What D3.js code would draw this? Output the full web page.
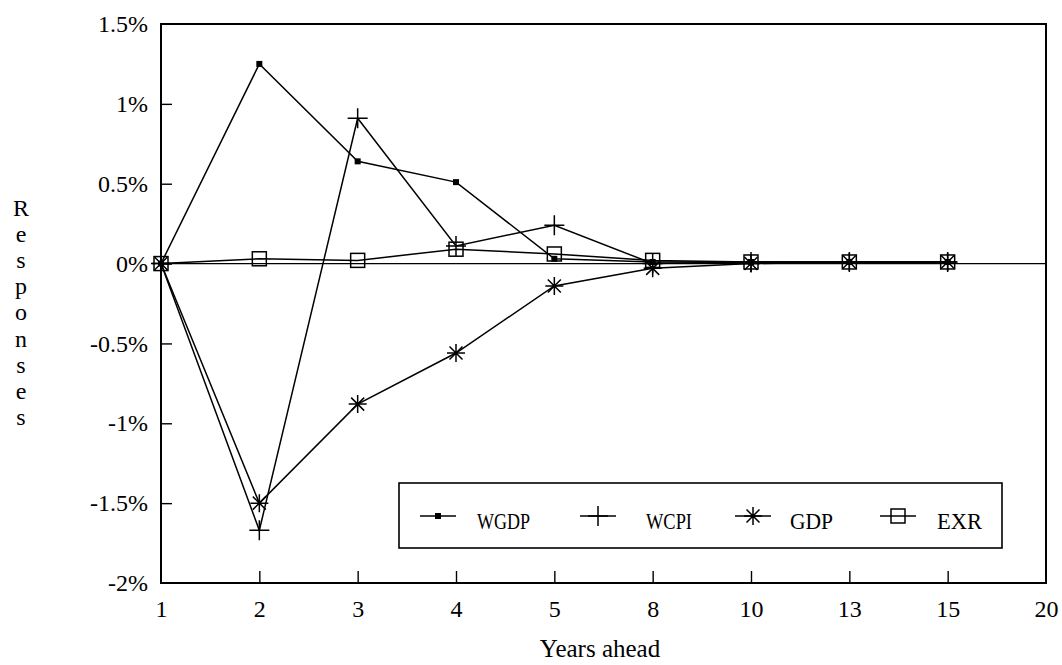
<!DOCTYPE html>
<html>
<head>
<meta charset="utf-8">
<script src="https://cdn.jsdelivr.net/npm/d3@7/dist/d3.min.js"></script>
<style>
  html, body { margin: 0; padding: 0; background: #fff; }
  svg { display: block; }
  svg text { font-family: "Liberation Serif", "Times New Roman", serif !important; fill: #000; }
</style>
</head>
<body>
<svg id="chart" width="1062" height="665"></svg>
<script>
// Horizon categories (years ahead), equally spaced on the axis
const years = ["1", "2", "3", "4", "5", "8", "10", "13", "15", "20"];

// Impulse responses in percent, one value per horizon 1..15
const wgdp = [0, 1.25, 0.64, 0.51, 0.03, 0.01, 0.01, 0.01, 0.01];
const wcpi = [0, -1.67, 0.91, 0.11, 0.24, 0.00, 0.01, 0.01, 0.01];
const gdp  = [0, -1.50, -0.88, -0.56, -0.14, -0.03, 0.00, 0.01, 0.01];
const exr  = [0, 0.03, 0.02, 0.09, 0.06, 0.02, 0.01, 0.01, 0.01];

const seriesNames = ["WGDP", "WCPI", "GDP", "EXR"];
const yTicks = [-2, -1.5, -1, -0.5, 0, 0.5, 1, 1.5];

const serif = '"Liberation Serif", "Times New Roman", serif';
const svg = d3.select("#chart");
const plotLeft = 161, plotRight = 1046, plotTop = 24, plotBottom = 583;

const x = d3.scalePoint().domain(years).range([plotLeft, plotRight]).padding(0);
const y = d3.scaleLinear().domain([-2, 1.5]).range([plotBottom, plotTop]);

const fmt = v => (v === 0 ? "0" : String(v)) + "%";

// Y axis: inward ticks, labels on the left
const yAxis = svg.append("g")
  .attr("transform", `translate(${plotLeft},0)`)
  .call(d3.axisLeft(y).tickValues(yTicks).tickFormat(fmt)
    .tickSizeInner(-11).tickSizeOuter(0).tickPadding(13))
  .attr("font-family", serif).attr("font-size", 24);
yAxis.select(".domain").remove();
yAxis.selectAll(".tick line")
  .attr("stroke", "#000").attr("stroke-width", 1.4)
  .filter(d => d === -2 || d === 1.5).remove();
yAxis.selectAll("text").style("font-family", serif).style("font-size", "24px");

// X axis: inward ticks, labels below
const xAxis = svg.append("g")
  .attr("transform", `translate(0,${plotBottom})`)
  .call(d3.axisBottom(x).tickSizeInner(-12).tickSizeOuter(0).tickPadding(17))
  .attr("font-family", serif).attr("font-size", 24);
xAxis.select(".domain").remove();
xAxis.selectAll(".tick line")
  .attr("stroke", "#000").attr("stroke-width", 1.4)
  .filter(d => d === "1" || d === "20").remove();
xAxis.selectAll("text").style("font-family", serif).style("font-size", "24px");

// Plot frame
svg.append("rect")
  .attr("x", plotLeft).attr("y", plotTop)
  .attr("width", plotRight - plotLeft).attr("height", plotBottom - plotTop)
  .attr("fill", "none").attr("stroke", "#000").attr("stroke-width", 2);

// Zero reference line
svg.append("line")
  .attr("x1", plotLeft).attr("x2", plotRight)
  .attr("y1", y(0)).attr("y2", y(0))
  .attr("stroke", "#000").attr("stroke-width", 1.3);

// Marker shapes
function marker(g, type, cx, cy) {
  if (type === "WGDP") {
    g.append("rect").attr("x", cx - 3).attr("y", cy - 3)
      .attr("width", 6).attr("height", 6).attr("fill", "#000");
  } else if (type === "WCPI") {
    g.append("path")
      .attr("d", `M${cx - 10},${cy}H${cx + 10}M${cx},${cy - 10}V${cy + 10}`)
      .attr("stroke", "#000").attr("stroke-width", 1.5).attr("fill", "none");
  } else if (type === "GDP") {
    const r = 9, d = 6.5;
    g.append("path")
      .attr("d", `M${cx - r},${cy}H${cx + r}M${cx},${cy - r}V${cy + r}` +
                 `M${cx - d},${cy - d}L${cx + d},${cy + d}M${cx - d},${cy + d}L${cx + d},${cy - d}`)
      .attr("stroke", "#000").attr("stroke-width", 1.5).attr("fill", "none");
  } else {
    g.append("rect").attr("x", cx - 7).attr("y", cy - 7)
      .attr("width", 14).attr("height", 14)
      .attr("fill", "none").attr("stroke", "#000").attr("stroke-width", 1.5);
  }
}

const seriesData = [wgdp, wcpi, gdp, exr];
const line = d3.line().x((d, i) => x(years[i])).y(d => y(d));

const plot = svg.append("g");
[3, 2, 1, 0].forEach(k => {
  const vals = seriesData[k];
  plot.append("path").datum(vals)
    .attr("d", line)
    .attr("fill", "none").attr("stroke", "#000").attr("stroke-width", 1.5);
  const mg = plot.append("g");
  vals.forEach((v, i) => marker(mg, seriesNames[k], x(years[i]), y(v)));
});

// Legend
const lg = svg.append("g");
lg.append("rect").attr("x", 399).attr("y", 483).attr("width", 603).attr("height", 65)
  .attr("fill", "#fff").attr("stroke", "#000").attr("stroke-width", 1.6);
const legendLineX = [420, 580, 735, 880];
const legendTextX = [477, 646, 790, 937];
const legendTextW = [53, 46, 43, 45];
const ly = 516;
seriesNames.forEach((name, i) => {
  lg.append("line").attr("x1", legendLineX[i]).attr("x2", legendLineX[i] + 36)
    .attr("y1", ly).attr("y2", ly).attr("stroke", "#000").attr("stroke-width", 1.5);
  marker(lg, name, legendLineX[i] + 18, ly);
  lg.append("text").attr("x", legendTextX[i]).attr("y", 529)
    .style("font-size", "24px")
    .attr("textLength", legendTextW[i]).attr("lengthAdjust", "spacingAndGlyphs")
    .text(name);
});

// Axis titles
svg.append("text").attr("x", 600).attr("y", 657)
  .attr("text-anchor", "middle").style("font-size", "25px").text("Years ahead");

const title = "Responses";
svg.append("g").selectAll("text").data(title.split("")).join("text")
  .attr("x", 21).attr("y", (d, i) => 216 + i * 26.1)
  .attr("text-anchor", "middle").style("font-size", "24px").text(d => d);
</script>
</body>
</html>
